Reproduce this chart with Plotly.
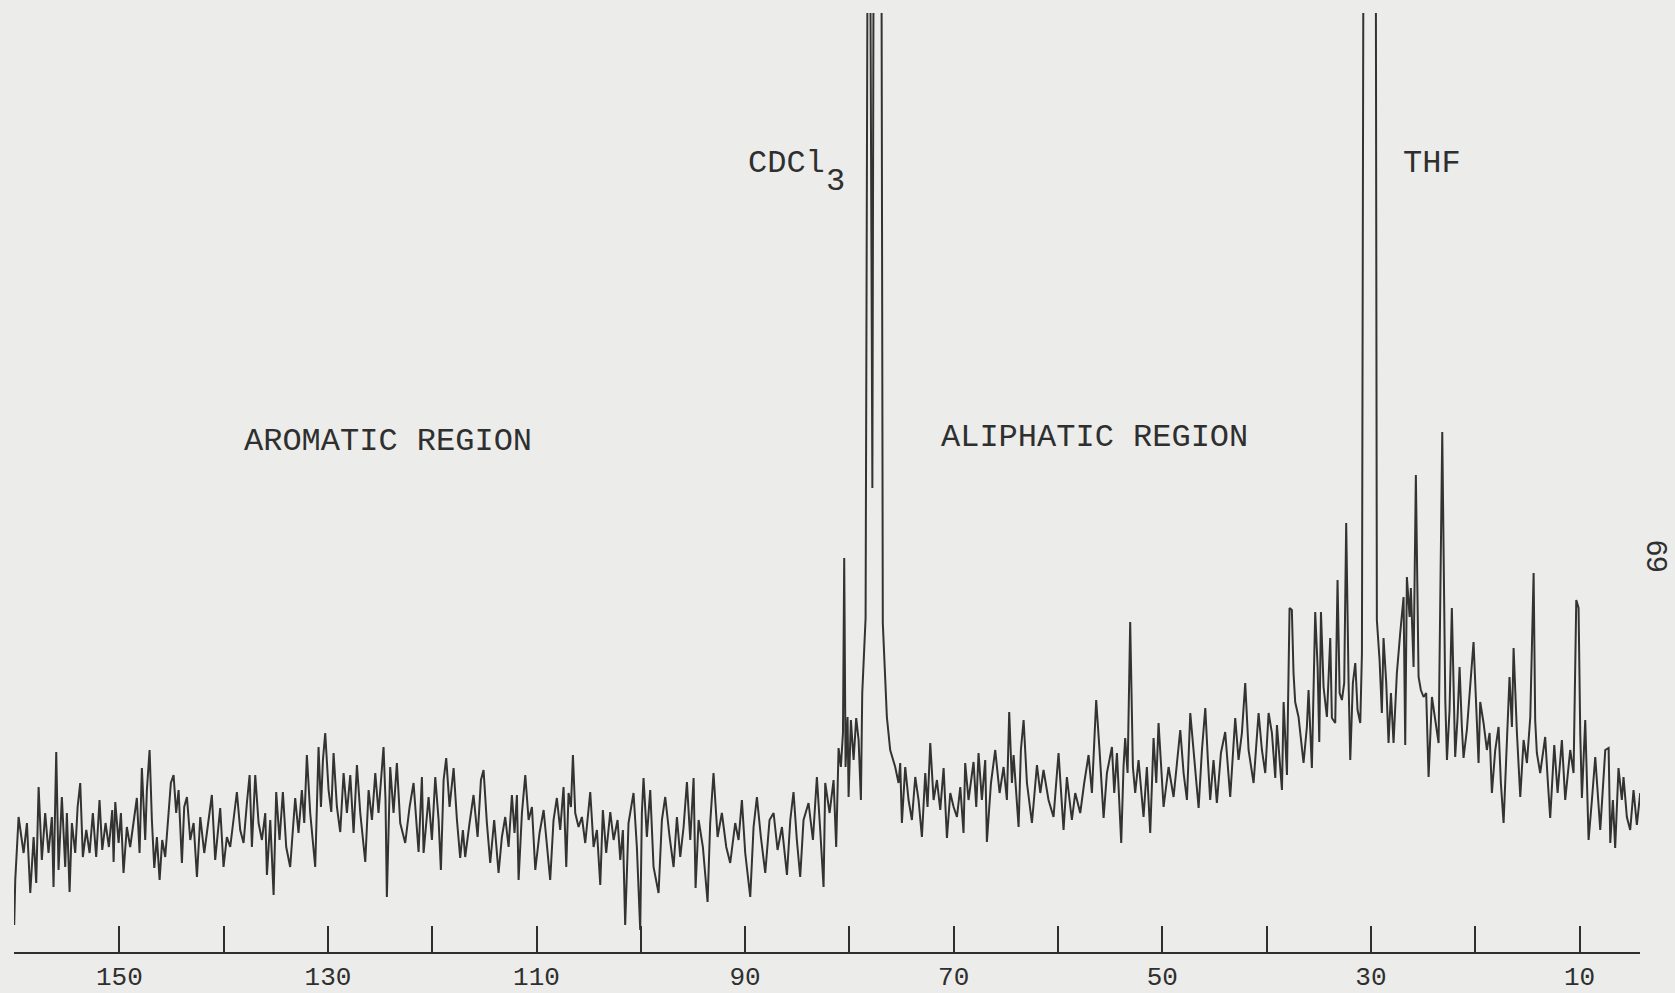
import plotly.graph_objects as go

# ---- 13C NMR trace (chemical shift in ppm, intensity in arbitrary units) ----
aromatic_ppm = [160.08, 159.98, 159.66, 159.18, 158.86, 158.54, 158.22, 157.97, 157.74, 157.43, 157.11, 156.79,
                156.47, 156.31, 156.05, 155.83, 155.51, 155.19, 155.03, 154.77, 154.55, 154.23, 154.0, 153.75,
                153.5, 153.17, 152.85, 152.54, 152.22, 151.9, 151.64, 151.32, 151.0, 150.68, 150.55, 150.39,
                150.07, 149.85, 149.6, 149.28, 148.96, 148.64, 148.32, 148.06, 147.84, 147.52, 147.36, 147.1,
                146.88, 146.65, 146.4, 146.14, 145.89, 145.6, 145.28, 145.06, 144.8, 144.55, 144.32, 144.0,
                143.78, 143.52, 143.2, 142.88, 142.56, 142.24, 141.86, 141.54, 141.13, 140.81, 140.33, 140.01,
                139.69, 139.37, 139.05, 138.73, 138.41, 138.09, 137.77, 137.51, 137.29, 136.97, 136.65, 136.33,
                136.01, 135.85, 135.53, 135.21, 134.96, 134.64, 134.32, 134.0, 133.62, 133.14, 132.82, 132.5,
                132.27, 132.02, 131.7, 131.22, 130.9, 130.67, 130.48, 130.26, 129.94, 129.68, 129.46, 129.14,
                128.82, 128.5, 128.18, 127.86, 127.54, 127.22, 126.9, 126.42, 126.1, 125.78, 125.46, 125.15,
                124.67, 124.48, 124.35, 124.03, 123.71, 123.39, 123.07, 122.59, 122.17, 121.79, 121.31, 120.99]
aromatic_int = [27, 72, 135, 99, 129, 59, 115, 69, 165, 92, 139, 99,
                135, 65, 200, 82, 155, 85, 139, 60, 129, 99, 145, 169,
                95, 122, 99, 139, 95, 152, 102, 129, 105, 142, 90, 150,
                109, 139, 79, 125, 105, 132, 154, 99, 184, 112, 162, 202,
                132, 84, 115, 72, 112, 95, 139, 169, 177, 139, 162, 89,
                145, 155, 112, 129, 75, 135, 99, 125, 157, 92, 144, 85,
                115, 105, 132, 160, 122, 109, 149, 177, 105, 177, 129, 112,
                139, 77, 132, 57, 160, 112, 160, 105, 85, 154, 119, 162,
                129, 197, 139, 85, 205, 145, 192, 219, 162, 140, 199, 145,
                120, 179, 139, 177, 119, 187, 139, 90, 162, 132, 179, 139,
                205, 152, 55, 185, 139, 189, 129, 109, 145, 169, 100, 175]

middle_ppm = [120.83, 120.35, 120.03, 119.71, 119.39, 119.17, 118.91, 118.66, 118.34, 117.95, 117.63, 117.32,
              117.06, 116.84, 116.42, 116.04, 115.65, 115.33, 115.08, 114.76, 114.44, 114.06, 113.64, 113.32,
              113.0, 112.68, 112.36, 112.11, 111.88, 111.72, 111.4, 111.08, 110.76, 110.44, 110.12, 109.71,
              109.32, 109.0, 108.69, 108.37, 108.05, 107.73, 107.41, 107.15, 106.93, 106.7, 106.51, 106.29,
              105.97, 105.65, 105.33, 104.85, 104.53, 104.21, 103.89, 103.64, 103.32, 102.93, 102.61, 102.23,
              101.97, 101.72, 101.5, 101.18, 100.7, 100.38, 100.06, 99.9, 99.74, 99.42, 99.1, 98.78,
              98.3, 97.98, 97.66, 97.24, 96.86, 96.54, 96.22, 95.9, 95.58, 95.26, 94.94, 94.75,
              94.46, 94.05, 93.6, 93.35, 93.03, 92.64, 92.23, 91.81, 91.43, 90.95, 90.63, 90.31,
              89.99, 89.51, 89.19, 88.87, 88.49, 88.07, 87.66, 87.27, 86.89, 86.47, 85.99, 85.67,
              85.36, 85.04, 84.72, 84.4, 83.92, 83.5, 83.12, 82.8, 82.48, 82.32, 81.9, 81.52,
              81.27, 81.04, 80.82]
middle_int = [99, 155, 112, 175, 132, 82, 172, 194, 145, 184, 132, 94,
              122, 95, 129, 157, 115, 172, 182, 129, 89, 132, 79, 115,
              135, 105, 157, 119, 157, 72, 139, 177, 132, 145, 82, 119,
              142, 105, 72, 132, 154, 122, 165, 85, 159, 145, 197, 139,
              125, 135, 109, 160, 105, 122, 67, 142, 99, 140, 112, 132,
              92, 122, 27, 129, 159, 105, 22, 139, 174, 115, 162, 85,
              59, 132, 155, 115, 85, 135, 95, 125, 170, 112, 174, 64,
              132, 105, 50, 129, 179, 115, 139, 105, 89, 129, 112, 152,
              99, 55, 125, 155, 115, 79, 132, 139, 102, 125, 77, 132,
              160, 112, 75, 132, 149, 112, 175, 122, 65, 169, 139, 172,
              105, 204, 185]

# CDCl3 multiplet and the aliphatic region down to 40 ppm
solvent_ppm = [80.62, 80.5, 80.37, 80.18, 80.08, 79.86, 79.6, 79.35, 79.12, 78.9, 78.77, 78.45,
               78.15, 77.8, 77.6, 77.0, 76.8, 76.41, 76.09, 75.61, 75.29, 75.13, 74.97,
               74.65, 74.33, 74.01, 73.69, 73.37, 73.05, 72.73, 72.51, 72.25, 71.93, 71.61, 71.29,
               70.97, 70.65, 70.33, 70.01, 69.69, 69.37, 69.06, 68.9, 68.58, 68.1, 67.84, 67.62,
               67.3, 66.98, 66.82, 66.43, 66.02, 65.6, 65.22, 64.9, 64.68, 64.42, 64.26, 63.78,
               63.56, 63.3, 62.98, 62.5, 62.02, 61.7, 61.39, 60.91, 60.43, 59.95, 59.69, 59.47,
               59.15, 58.67, 58.35, 57.87, 57.49, 57.07, 56.75, 56.53, 56.34, 56.02, 55.63, 55.31,
               54.83, 54.61, 54.35, 53.94, 53.72, 53.56, 53.33, 53.08, 52.82, 52.6, 52.28, 51.8,
               51.48, 51.16, 50.84, 50.58, 50.36, 49.88, 49.4, 48.92, 48.6, 48.28, 47.96, 47.64,
               47.32, 46.94, 46.52, 46.2, 45.88, 45.63, 45.41, 45.09, 44.77, 44.38, 43.97, 43.49,
               43.01, 42.69, 42.37, 42.05, 41.73, 41.25, 40.77, 40.45, 40.13]
solvent_int = [219, 394, 185, 235, 155, 232, 192, 234, 212, 152, 259, 334,
               1400, 464, 1400, 1400, 329, 235, 202, 185, 169, 189, 129,
               185, 152, 132, 175, 152, 115, 179, 145, 209, 152, 172, 142,
               184, 114, 159, 145, 135, 165, 119, 189, 152, 190, 145, 199,
               152, 192, 110, 169, 202, 159, 185, 152, 240, 169, 197, 125,
               202, 232, 169, 129, 187, 159, 182, 152, 135, 199, 159, 122,
               175, 132, 159, 139, 169, 197, 159, 219, 252, 202, 134, 179,
               205, 159, 199, 109, 185, 214, 179, 330, 185, 159, 192, 135,
               185, 119, 214, 169, 229, 145, 185, 155, 192, 222, 179, 152,
               239, 192, 144, 202, 244, 192, 152, 192, 149, 199, 220, 155,
               234, 192, 219, 269, 202, 169, 239, 202, 179]

# THF and the high-field end
upfield_ppm = [39.81, 39.49, 39.17, 39.01, 38.53, 38.37, 38.05, 37.8, 37.58, 37.42, 37.26, 36.94,
               36.46, 36.14, 35.98, 35.66, 35.34, 35.11, 34.95, 34.79, 34.54, 34.22, 33.9, 33.74,
               33.42, 33.2, 33.0, 32.78, 32.56, 32.37, 32.14, 31.98, 31.73, 31.5, 31.28, 31.02,
               30.86, 30.64, 29.59, 29.43, 29.17, 28.95, 28.79, 28.53, 28.31, 28.08, 27.83, 27.51,
               27.19, 26.87, 26.71, 26.55, 26.29, 26.17, 25.91, 25.69, 25.43, 25.21, 24.95, 24.7,
               24.47, 24.15, 23.83, 23.51, 23.16, 22.87, 22.71, 22.46, 22.24, 22.08, 21.92, 21.69,
               21.5, 21.28, 21.12, 20.8, 20.48, 20.16, 19.9, 19.68, 19.52, 19.2, 18.88, 18.62,
               18.4, 18.08, 17.76, 17.54, 17.28, 16.96, 16.71, 16.48, 16.32, 16.0, 15.68, 15.36,
               15.04, 14.72, 14.4, 14.25, 14.09, 13.77, 13.29, 13.03, 12.81, 12.42, 12.1, 11.69,
               11.37, 10.89, 10.57, 10.31, 10.09, 9.93, 9.77, 9.45, 9.13, 8.81, 8.49, 8.01,
               7.76, 7.53, 7.21, 7.05, 6.8, 6.58, 6.26, 5.94, 5.78, 5.46, 5.14, 4.82,
               4.5, 4.18]
upfield_int = [239, 219, 174, 227, 162, 250, 177, 344, 342, 279, 250, 235,
               189, 225, 262, 184, 340, 285, 210, 340, 265, 235, 314, 234,
               229, 372, 259, 252, 269, 429, 269, 192, 269, 289, 242, 229,
               299, 1400, 1400, 332, 292, 239, 314, 269, 209, 259, 209, 279,
               319, 355, 207, 375, 335, 364, 285, 477, 275, 262, 255, 259,
               175, 255, 232, 209, 520, 252, 192, 242, 344, 252, 195, 235,
               285, 225, 194, 222, 262, 310, 245, 189, 250, 229, 202, 219,
               159, 202, 225, 169, 129, 219, 275, 225, 304, 219, 155, 212,
               189, 235, 379, 232, 199, 179, 215, 169, 134, 207, 159, 212,
               152, 202, 179, 352, 344, 219, 154, 232, 112, 152, 195, 122,
               169, 202, 204, 109, 152, 104, 184, 152, 175, 135, 122, 162,
               127, 159]

shift_ppm = aromatic_ppm + middle_ppm + solvent_ppm + upfield_ppm
intensity = aromatic_int + middle_int + solvent_int + upfield_int

tick_values = [150, 140, 130, 120, 110, 100, 90, 80, 70, 60, 50, 40, 30, 20, 10]
tick_labels = ["150", "", "130", "", "110", "", "90", "", "70", "", "50", "", "30", "", "10"]

ink = "#2f2f2f"
paper = "#ececea"
mono = "Liberation Mono, Courier New, monospace"

fig = go.Figure()
fig.add_trace(go.Scatter(
    x=shift_ppm, y=intensity, mode="lines",
    line=dict(color="#333333", width=2),
    hoverinfo="x+y", showlegend=False,
))

fig.update_layout(
    width=1675, height=993,
    margin=dict(l=14, r=35, t=13, b=41, autoexpand=False),
    paper_bgcolor=paper, plot_bgcolor=paper,
    showlegend=False,
    xaxis=dict(
        range=[160.1, 4.2], autorange=False, automargin=False,
        showgrid=False, zeroline=False,
        showline=True, linecolor=ink, linewidth=2,
        ticks="inside", ticklen=26, tickwidth=2, tickcolor=ink,
        tickvals=tick_values, ticktext=tick_labels,
        tickfont=dict(family=mono, size=26, color=ink),
    ),
    yaxis=dict(range=[0, 939], visible=False, showgrid=False, zeroline=False, automargin=False),
)

label_font = dict(family=mono, size=32, color=ink)
fig.add_annotation(x=124.2, y=511, text="AROMATIC REGION", showarrow=False, font=label_font)
fig.add_annotation(x=56.5, y=515, text="ALIPHATIC REGION", showarrow=False, font=label_font)
fig.add_annotation(x=86.06, y=789, text="CDCl", showarrow=False, font=label_font)
fig.add_annotation(x=81.3, y=771, text="3", showarrow=False, font=label_font)
fig.add_annotation(x=24.1, y=789, text="THF", showarrow=False, font=label_font)
fig.add_annotation(xref="paper", yref="paper", x=1.0117, y=0.4217, xshift=16, text="69", textangle=90,
                   showarrow=False, font=dict(family="Liberation Sans, Arial, sans-serif", size=29, color=ink))

fig.write_html(
    "out.html",
    config={"displayModeBar": False},
    post_script="document.body.style.margin='0';document.body.style.background='%s';" % paper,
)
